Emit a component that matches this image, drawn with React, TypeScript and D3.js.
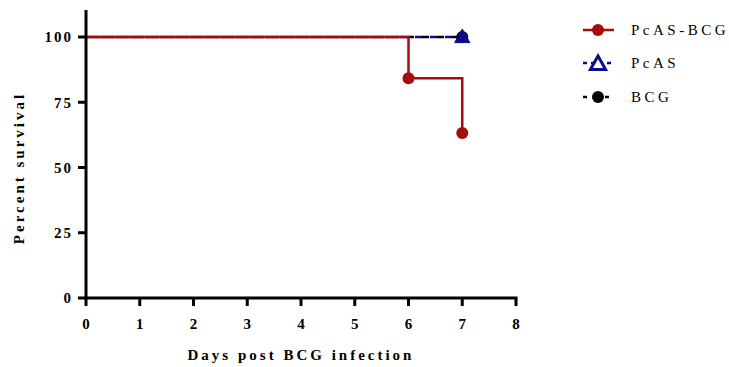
import React from "react";
import * as d3 from "d3";

// Survival steps per group: [day, percent]
const pcasBcgDays = [0, 6, 7];
const pcasBcgSurvival = [100, 84.2, 63.2];
const pcasDays = [0, 7];
const pcasSurvival = [100, 100];
const bcgDays = [0, 7];
const bcgSurvival = [100, 100];

const xTicks = [0, 1, 2, 3, 4, 5, 6, 7, 8];
const yTicks = [0, 25, 50, 75, 100];
const legendLabels = ["PcAS-BCG", "PcAS", "BCG"];

const RED = "#a50d0d";
const NAVY = "#0a0a8f";
const BLACK = "#000000";
const FONT = "Liberation Serif";

export default function App() {
  const W = 729;
  const H = 367;
  const x = d3.scaleLinear().domain([0, 8]).range([86, 516]);
  const y = d3.scaleLinear().domain([0, 100]).range([298, 37]);

  const stepLine = d3
    .line<[number, number]>()
    .x((d) => x(d[0]))
    .y((d) => y(d[1]))
    .curve(d3.curveStepAfter);

  const zip = (a: number[], b: number[]) => a.map((v, i) => [v, b[i]] as [number, number]);
  const redPts = zip(pcasBcgDays, pcasBcgSurvival);
  const navyPts = zip(pcasDays, pcasSurvival);
  const blackPts = zip(bcgDays, bcgSurvival);

  const tri = (cx: number, cy: number, s: number) =>
    `M${cx},${cy - s} L${cx + s * 0.95},${cy + s * 0.7} L${cx - s * 0.95},${cy + s * 0.7} Z`;

  const legendY = [30, 63, 97];

  return (
    <svg width={W} height={H} style={{ display: "block", position: "absolute", left: 0, top: 0 }}>
      <rect width={W} height={H} fill="#fff" />
      {/* series: BCG (black dashed), PcAS (navy dashed), PcAS-BCG (red steps) */}
      <path d={stepLine(blackPts) ?? ""} fill="none" stroke={BLACK} strokeWidth={2.5} strokeDasharray="7 8" strokeDashoffset={-6} />
      <path d={stepLine(navyPts) ?? ""} fill="none" stroke={NAVY} strokeWidth={2.5} strokeDasharray="7 8" strokeDashoffset={1} />
      <path d={stepLine(redPts) ?? ""} fill="none" stroke={RED} strokeWidth={2.5} />
      {redPts.slice(1).map((p, i) => (
        <circle key={i} cx={x(p[0])} cy={y(p[1])} r={6} fill={RED} />
      ))}
      <circle cx={x(blackPts[1][0])} cy={y(blackPts[1][1])} r={6} fill={BLACK} />
      <path d={tri(x(navyPts[1][0]), y(navyPts[1][1]), 8)} fill={NAVY} stroke={NAVY} strokeWidth={1} />

      {/* axes */}
      <line x1={86} x2={86} y1={10} y2={299.5} stroke="#000" strokeWidth={3} />
      <line x1={84.5} x2={517.5} y1={298} y2={298} stroke="#000" strokeWidth={3} />
      {yTicks.map((t) => (
        <g key={t}>
          <line x1={78} x2={86} y1={y(t)} y2={y(t)} stroke="#000" strokeWidth={3} />
          <text x={73} y={y(t)} dy="0.35em" textAnchor="end" fontFamily={FONT} fontWeight="bold" fontSize={15} letterSpacing={2}>
            {t}
          </text>
        </g>
      ))}
      {xTicks.map((t) => (
        <g key={t}>
          <line x1={x(t)} x2={x(t)} y1={298} y2={306} stroke="#000" strokeWidth={3} />
          <text x={x(t)} y={329} textAnchor="middle" fontFamily={FONT} fontWeight="bold" fontSize={15}>
            {t}
          </text>
        </g>
      ))}
      <text x={301} y={360} textAnchor="middle" fontFamily={FONT} fontWeight="bold" fontSize={15} letterSpacing={3}>
        Days post BCG infection
      </text>
      <text
        transform="translate(24,168) rotate(-90)"
        textAnchor="middle"
        fontFamily={FONT}
        fontWeight="bold"
        fontSize={15}
        letterSpacing={3}
      >
        Percent survival
      </text>

      {/* legend */}
      <g>
        <line x1={583} x2={614} y1={legendY[0]} y2={legendY[0]} stroke={RED} strokeWidth={2.5} />
        <circle cx={598} cy={legendY[0]} r={6} fill={RED} />
        <line x1={583} x2={614} y1={legendY[1]} y2={legendY[1]} stroke={NAVY} strokeWidth={2.5} strokeDasharray="4 4" />
        <path d={tri(598, legendY[1] + 1, 8)} fill="#fff" stroke={NAVY} strokeWidth={3} />
        <line x1={583} x2={614} y1={legendY[2]} y2={legendY[2]} stroke={BLACK} strokeWidth={2.5} strokeDasharray="4 7" />
        <circle cx={598} cy={legendY[2]} r={6} fill={BLACK} />
        {legendLabels.map((l, i) => (
          <text key={l} x={631} y={legendY[i]} dy="0.35em" fontFamily={FONT} fontSize={15} letterSpacing={3.5}>
            {l}
          </text>
        ))}
      </g>
    </svg>
  );
}
